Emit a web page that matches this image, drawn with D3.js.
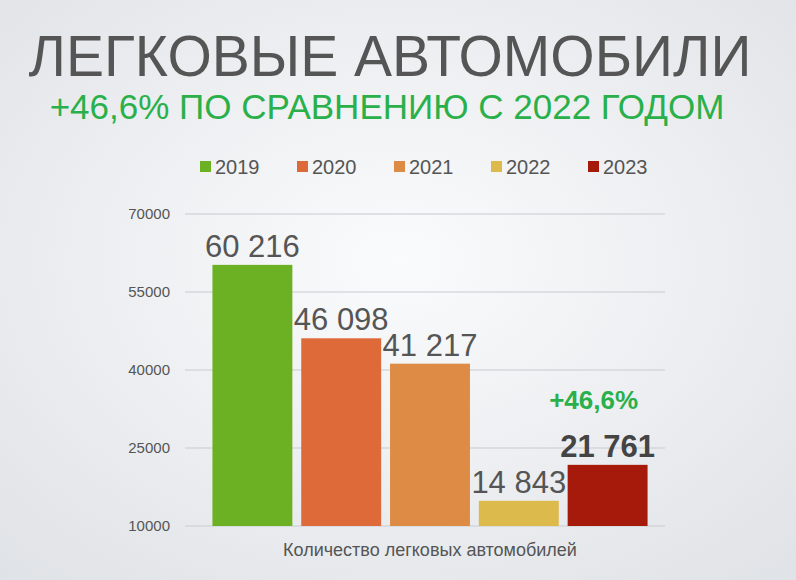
<!DOCTYPE html>
<html><head><meta charset="utf-8">
<script src="https://cdn.jsdelivr.net/npm/d3@7"></script>
<style>body{margin:0;}svg{display:block;font-family:"Liberation Sans",Arial,sans-serif;}</style>
</head><body>
<svg id="chart" width="796" height="580"></svg>
<script>
// data
let years = ["2019", "2020", "2021", "2022", "2023"];
let values = [60216, 46098, 41217, 14843, 21761];
let labels = ["60 216", "46 098", "41 217", "14 843", "21 761"];
let colors = ["#6cb023", "#de6a3a", "#dd8b45", "#dcbb4c", "#a51a0b"];
let ticks = [10000, 25000, 40000, 55000, 70000];

let svg = d3.select("#chart");

let grad = svg.append("defs").append("radialGradient")
  .attr("id", "bg").attr("cx", "50%").attr("cy", "45%").attr("r", "75%");
grad.append("stop").attr("offset", "0%").attr("stop-color", "#fafbfc");
grad.append("stop").attr("offset", "100%").attr("stop-color", "#dfe2e6");
svg.append("rect").attr("width", 796).attr("height", 580).attr("fill", "url(#bg)");

svg.append("text").attr("x", 390).attr("y", 76).attr("text-anchor", "middle")
  .attr("font-size", 57).attr("fill", "#555").text("ЛЕГКОВЫЕ АВТОМОБИЛИ");
svg.append("text").attr("x", 387).attr("y", 119).attr("text-anchor", "middle")
  .attr("font-size", 35).attr("fill", "#2ab04a").text("+46,6% ПО СРАВНЕНИЮ С 2022 ГОДОМ");

// legend
let legend = svg.append("g").selectAll("g").data(years).enter().append("g")
  .attr("transform", (d, i) => "translate(" + (200 + i * 97) + ",160)");
legend.append("rect").attr("width", 11).attr("height", 11).attr("y", 1)
  .attr("fill", (d, i) => colors[i]);
legend.append("text").attr("x", 15).attr("y", 14).attr("font-size", 20)
  .attr("fill", "#555").text(d => d);

let y = d3.scaleLinear().domain([10000, 70000]).range([526, 214]);
let x = d3.scaleBand().domain(years).range([208, 652]).paddingInner(0.1).paddingOuter(0.05);

let grid = svg.append("g");
grid.selectAll("line").data(ticks).enter().append("line")
  .attr("x1", 185).attr("x2", 665)
  .attr("y1", d => y(d)).attr("y2", d => y(d))
  .attr("stroke", "#c8cbcf").attr("stroke-width", 1);
grid.selectAll("text").data(ticks).enter().append("text")
  .attr("x", 170).attr("y", d => y(d) + 5).attr("text-anchor", "end")
  .attr("font-size", 15).attr("fill", "#555").text(d => d);

svg.append("g").selectAll("rect").data(values).enter().append("rect")
  .attr("x", (d, i) => x(years[i])).attr("width", x.bandwidth())
  .attr("y", d => y(d)).attr("height", d => y(10000) - y(d))
  .attr("fill", (d, i) => colors[i]);

svg.append("g").selectAll("text").data(values).enter().append("text")
  .attr("x", (d, i) => x(years[i]) + x.bandwidth() / 2)
  .attr("y", d => y(d) - 8).attr("text-anchor", "middle")
  .attr("font-size", 31)
  .attr("font-weight", (d, i) => i == 4 ? "bold" : "normal")
  .attr("fill", (d, i) => i == 4 ? "#444" : "#555")
  .text((d, i) => labels[i]);

svg.append("text").attr("x", x("2023") + x.bandwidth() / 2 - 14).attr("y", 409)
  .attr("text-anchor", "middle").attr("font-size", 26).attr("font-weight", "bold")
  .attr("fill", "#2ab04a").text("+46,6%");

svg.append("text").attr("x", 430).attr("y", 556).attr("text-anchor", "middle")
  .attr("font-size", 18).attr("fill", "#555").text("Количество легковых автомобилей");
</script>
</body></html>
